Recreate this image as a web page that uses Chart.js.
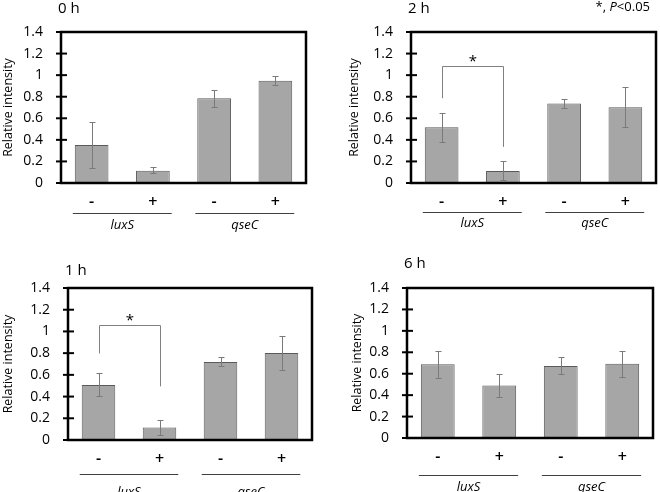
<!DOCTYPE html>
<html>
<head>
<meta charset="utf-8">
<script src="https://cdn.jsdelivr.net/npm/chart.js@4"></script>
<style>
  body { margin: 0; background: #fff; }
  #wrap { position: relative; width: 660px; height: 492px; overflow: hidden; background: #fff; }
  .panel { position: absolute; width: 330px; height: 246px; }
</style>
</head>
<body>
<div id="wrap">
  <div class="panel" style="left:0;top:0"><canvas id="c0h" width="330" height="246"></canvas></div>
  <div class="panel" style="left:330px;top:0"><canvas id="c2h" width="330" height="246"></canvas></div>
  <div class="panel" style="left:0;top:246px"><canvas id="c1h" width="330" height="246"></canvas></div>
  <div class="panel" style="left:330px;top:246px"><canvas id="c6h" width="330" height="246"></canvas></div>
</div>
<script>
/* data */
const categories = ['-', '+', '-', '+'];
const groups = ['luxS', 'qseC'];
const yTicks = [0, 0.2, 0.4, 0.6, 0.8, 1, 1.2, 1.4];
const yTickLabels = ['0', '0.2', '0.4', '0.6', '0.8', '1', '1.2', '1.4'];

const mean0h = [0.352, 0.114, 0.785, 0.948];
const low0h  = [0.136, 0.09, 0.707, 0.905];
const high0h = [0.568, 0.145, 0.862, 0.99];

const mean2h = [0.516, 0.112, 0.736, 0.702];
const low2h  = [0.382, 0.032, 0.693, 0.516];
const high2h = [0.646, 0.205, 0.779, 0.894];

const mean1h = [0.506, 0.116, 0.718, 0.801];
const low1h  = [0.408, 0.046, 0.684, 0.645];
const high1h = [0.613, 0.18, 0.761, 0.954];

const mean6h = [0.688, 0.491, 0.672, 0.694];
const low6h  = [0.562, 0.384, 0.594, 0.569];
const high6h = [0.813, 0.594, 0.756, 0.813];

// significance brackets: [from, to, top, left leg end, right leg end]
const bracket2h = [0, 1, 1.089, 0.786, 0.335];
const bracket1h = [0, 1, 1.06, 0.797, 0.494];

const FONT = '"Open Sans", "DejaVu Sans", sans-serif';

/* error bars, frame, brackets, group labels, panel titles */
const panelDeco = {
    id: 'panelDeco',
    afterDatasetsDraw(chart, args, o) {
        const { ctx, chartArea: a, scales: { y } } = chart;
        const meta = chart.getDatasetMeta(0);
        const line = (x1, y1, x2, y2) => { ctx.beginPath(); ctx.moveTo(x1, y1); ctx.lineTo(x2, y2); ctx.stroke(); };
        ctx.save();

        // error bars
        ctx.strokeStyle = '#7a7a7a'; ctx.lineWidth = 1;
        meta.data.forEach((bar, i) => {
            const yl = Math.round(y.getPixelForValue(o.low[i])) + 0.5;
            const yh = Math.round(y.getPixelForValue(o.high[i])) + 0.5;
            const bx = Math.round(bar.x) + 0.5;
            line(bx, yl, bx, yh);
            line(bx - 3, yl, bx + 3, yl);
            line(bx - 3, yh, bx + 3, yh);
        });

        // bracket + star
        if (o.bracket) {
            const [i1, i2, top, e1, e2] = o.bracket;
            const x1 = Math.round(meta.data[i1].x) + 0.5, x2 = Math.round(meta.data[i2].x) + 0.5;
            const yt = Math.round(y.getPixelForValue(top)) + 0.5;
            ctx.strokeStyle = '#808080';
            ctx.beginPath();
            ctx.moveTo(x1, y.getPixelForValue(e1)); ctx.lineTo(x1, yt);
            ctx.lineTo(x2, yt); ctx.lineTo(x2, y.getPixelForValue(e2));
            ctx.stroke();
            ctx.fillStyle = '#000'; ctx.font = '15px ' + FONT;
            ctx.textAlign = 'center'; ctx.textBaseline = 'middle';
            ctx.fillText('*', (x1 + x2) / 2, yt - 5);
        }

        // frame
        ctx.strokeStyle = '#000'; ctx.lineWidth = 2.5;
        ctx.strokeRect(a.left, a.top, a.width, a.height);
        // y tick marks crossing the axis
        ctx.lineWidth = 2;
        y.ticks.forEach(t => {
            const py = y.getPixelForValue(t.value);
            line(a.left - 5, py, a.left + 6, py);
        });

        // group underline + italic label
        ctx.lineWidth = 1; ctx.strokeStyle = '#404040';
        ctx.fillStyle = '#000'; ctx.font = 'italic 13px ' + FONT;
        ctx.textAlign = 'center'; ctx.textBaseline = 'middle';
        groups.forEach((g, k) => {
            const b1 = meta.data[2 * k], b2 = meta.data[2 * k + 1];
            const x1 = b1.x - b1.width / 2 - 2, x2 = b2.x + b2.width / 2 + 2;
            const ly = Math.round(a.bottom + o.lineDy) + 0.5;
            line(x1, ly, x2, ly);
            ctx.fillText(g, (x1 + x2) / 2, a.bottom + o.labelDy);
        });

        // panel title
        ctx.font = '15px ' + FONT; ctx.textAlign = 'left';
        ctx.fillText(o.title, a.left - 3, a.top - o.titleDy);

        // p-value note
        if (o.note) {
            const parts = [['*, ', ''], ['P', 'italic '], ['<0.05', '']];
            let w = 0;
            parts.forEach(p => { ctx.font = p[1] + '13px ' + FONT; w += ctx.measureText(p[0]).width; });
            let px = a.right - 6 - w;
            parts.forEach(p => {
                ctx.font = p[1] + '13px ' + FONT;
                ctx.fillText(p[0], px, a.top - 25);
                px += ctx.measureText(p[0]).width;
            });
        }
        ctx.restore();
    }
};

function drawPanel(canvasId, mean, low, high, box, deco) {
    const [padL, L, R, T, B] = box;
    return new Chart(document.getElementById(canvasId).getContext('2d'), {
        type: 'bar',
        data: {
            labels: categories,
            datasets: [{
                data: mean,
                backgroundColor: '#a6a6a6', borderColor: '#5a5a5a', borderWidth: 1,
                barPercentage: 0.55, categoryPercentage: 1
            }]
        },
        options: {
            responsive: false, animation: false, devicePixelRatio: 1,
            layout: { padding: { left: padL, top: T, right: 330 - R, bottom: 0 } },
            scales: {
                x: {
                    grid: { display: false, drawTicks: false }, border: { display: false },
                    ticks: { color: '#000', font: { family: FONT, size: 16, weight: '600' }, padding: 10 },
                    afterFit: s => { s.height = 246 - B; }
                },
                y: {
                    min: 0, max: 1.4,
                    afterBuildTicks: s => { s.ticks = yTicks.map(v => ({ value: v })); },
                    grid: { display: false, drawTicks: false }, border: { display: false },
                    ticks: { color: '#000', font: { family: FONT, size: 14 }, padding: 18,
                             callback: (v, i) => yTickLabels[i] },
                    title: { display: true, text: 'Relative intensity', color: '#000', font: { family: FONT, size: 12.5 }, padding: { top: 1, bottom: 0 } },
                    afterFit: s => { s.width = L - padL; }
                }
            },
            plugins: {
                legend: { display: false }, tooltip: { enabled: false },
                panelDeco: Object.assign({ low, high }, deco)
            }
        },
        plugins: [panelDeco]
    });
}

drawPanel('c0h', mean0h, low0h, high0h, [0, 61, 306, 32, 183],
    { title: '0 h', titleDy: 23, lineDy: 30, labelDy: 42 });
drawPanel('c2h', mean2h, low2h, high2h, [16, 81, 326, 32, 183],
    { title: '2 h', titleDy: 23, lineDy: 29, labelDy: 40, bracket: bracket2h, note: true });
drawPanel('c1h', mean1h, low1h, high1h, [0, 68, 312, 42, 194],
    { title: '1 h', titleDy: 17, lineDy: 34, labelDy: 52, bracket: bracket1h });
drawPanel('c6h', mean6h, low6h, high6h, [19, 77, 323, 42, 192],
    { title: '6 h', titleDy: 24, lineDy: 37, labelDy: 49 });
</script>
</body>
</html>
